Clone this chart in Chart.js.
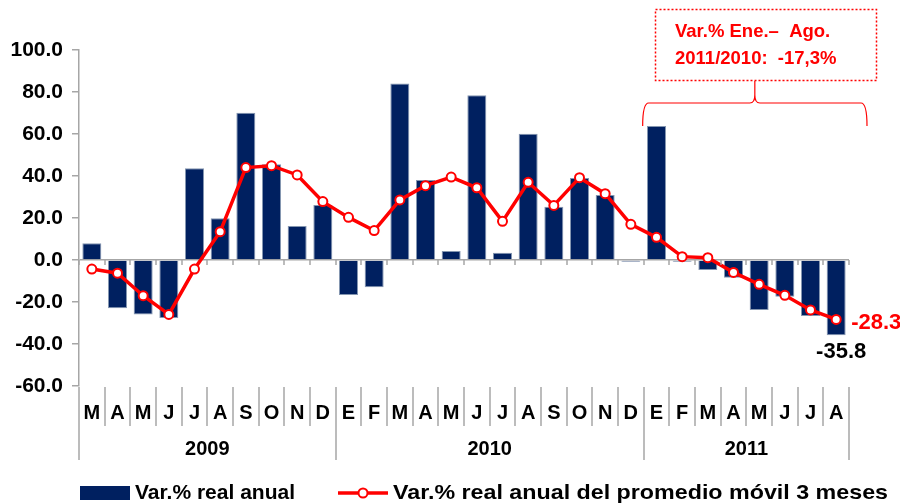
<!DOCTYPE html>
<html>
<head>
<meta charset="utf-8">
<script src="https://cdn.jsdelivr.net/npm/chart.js@4.4.0/dist/chart.umd.min.js"></script>
<style>
  body { margin: 0; background: #fff; }
  canvas { display: block; }
</style>
</head>
<body>
<canvas id="chart" width="900" height="504"></canvas>
<script>
// months from Mar-2009 to Aug-2011
const months = ['M','A','M','J','J','A','S','O','N','D',
                'E','F','M','A','M','J','J','A','S','O','N','D',
                'E','F','M','A','M','J','J','A'];
const years = ['2009', '2010', '2011'];
const monthsPerYear = [10, 12, 8];

const annualVar = [8.0, -23.0, -25.9, -27.6, 43.7, 19.9, 70.1, 45.6, 16.2, 26.2,
                   -16.7, -13.0, 84.0, 38.1, 4.3, 78.4, 3.5, 60.1, 25.4, 39.0, 31.0, -0.8,
                   63.8, -0.8, -4.8, -8.4, -23.8, -17.5, -26.7, -35.8];
const movingAvg = [-4.3, -6.3, -17.0, -25.9, -4.3, 13.5, 44.0, 44.9, 40.5, 27.8,
                   20.3, 14.0, 28.6, 35.4, 39.5, 34.4, 18.4, 37.0, 26.0, 39.2, 31.6, 17.0,
                   10.8, 1.6, 1.1, -5.9, -11.6, -16.8, -23.8, -28.3];

const yMin = -60, yMax = 100, yStep = 20;
const noteLines = ['Var.% Ene.\u2013  Ago.', '2011/2010:  -17,3%'];
const legendLabels = ['Var.% real anual', 'Var.% real anual del promedio m\u00f3vil 3 meses'];

const FONT = 'Arial, "Liberation Sans", sans-serif';
const NAVY = '#002060';
const RED = '#ff0000';
const AXIS = '#a6a6a6';

// draw text stretched horizontally to a given width
function wideText(ctx, text, x, y, width) {
    const w = ctx.measureText(text).width;
    ctx.save();
    ctx.translate(x, y);
    ctx.scale(width / w, 1);
    ctx.fillText(text, 0, 0);
    ctx.restore();
}

const extras = {
    id: 'extras',
    afterDraw(chart) {
        const { ctx, chartArea: a, scales: { x, y } } = chart;
        const half = (x.getPixelForValue(1) - x.getPixelForValue(0)) / 2;
        const edge = i => i < months.length ? x.getPixelForValue(i) - half : x.getPixelForValue(i - 1) + half;
        const y0 = y.getPixelForValue(0);
        ctx.save();

        // small ticks on the zero line + month separators under the plot
        ctx.strokeStyle = AXIS;
        ctx.lineWidth = 1.5;
        const yearEdges = [0];
        monthsPerYear.reduce((s, n) => { yearEdges.push(s + n); return s + n; }, 0);
        for (let i = 0; i <= months.length; i++) {
            const px = Math.round(edge(i));
            ctx.beginPath();
            ctx.moveTo(px, y0);
            ctx.lineTo(px, y0 + 5);
            ctx.stroke();
            const long = yearEdges.includes(i);
            ctx.beginPath();
            ctx.moveTo(px, a.bottom + 1);
            ctx.lineTo(px, a.bottom + (long ? 74 : 40));
            ctx.stroke();
        }

        // year labels
        ctx.fillStyle = '#000';
        ctx.font = 'bold 20px ' + FONT;
        ctx.textAlign = 'center';
        ctx.textBaseline = 'middle';
        years.forEach((yr, k) => {
            const cx = (edge(yearEdges[k]) + edge(yearEdges[k + 1])) / 2;
            ctx.fillText(yr, cx, a.bottom + 63);
        });

        // end labels
        const last = months.length - 1;
        const pt = chart.getDatasetMeta(0).data[last];
        const bar = chart.getDatasetMeta(1).data[last];
        ctx.font = 'bold 22px ' + FONT;
        ctx.textAlign = 'left';
        ctx.fillStyle = RED;
        ctx.fillText(movingAvg[last].toFixed(1), pt.x + 15, pt.y + 4);
        ctx.fillStyle = '#000';
        ctx.textAlign = 'center';
        ctx.fillText(annualVar[last].toFixed(1), bar.x + 5, bar.y + 17);

        // annotation box
        ctx.strokeStyle = RED;
        ctx.lineWidth = 1.5;
        ctx.setLineDash([2, 2]);
        ctx.strokeRect(655.5, 9.5, 221, 71);
        ctx.setLineDash([]);
        ctx.fillStyle = RED;
        ctx.font = 'bold 18.5px ' + FONT;
        ctx.textAlign = 'left';
        ctx.fillText(noteLines[0], 675, 32);
        ctx.fillText(noteLines[1], 675, 59);

        // brace over Jan-Aug 2011
        const xl = edge(22) - 1, xr = a.right + 18, xm = (xl + xr) / 2;
        ctx.lineWidth = 1.2;
        ctx.beginPath();
        ctx.moveTo(xl, 126);
        ctx.quadraticCurveTo(xl, 103, xl + 6, 103);
        ctx.lineTo(xm - 5, 103);
        ctx.quadraticCurveTo(xm, 103, xm, 95);
        ctx.lineTo(xm, 81);
        ctx.moveTo(xm, 95);
        ctx.quadraticCurveTo(xm, 103, xm + 5, 103);
        ctx.lineTo(xr - 6, 103);
        ctx.quadraticCurveTo(xr, 103, xr, 126);
        ctx.stroke();

        // legend
        const ly = 493;
        ctx.fillStyle = NAVY;
        ctx.fillRect(80, ly - 7, 50, 14);
        ctx.fillStyle = '#000';
        ctx.font = 'bold 21px ' + FONT;
        ctx.textAlign = 'left';
        wideText(ctx, legendLabels[0], 135, ly, 160);
        ctx.strokeStyle = RED;
        ctx.lineWidth = 3.5;
        ctx.beginPath();
        ctx.moveTo(338, ly);
        ctx.lineTo(388, ly);
        ctx.stroke();
        ctx.beginPath();
        ctx.arc(363, ly, 4.5, 0, Math.PI * 2);
        ctx.fillStyle = '#fff';
        ctx.fill();
        ctx.lineWidth = 2;
        ctx.stroke();
        ctx.fillStyle = '#000';
        wideText(ctx, legendLabels[1], 393, ly, 495);

        ctx.restore();
    }
};

new Chart(document.getElementById('chart'), {
    type: 'bar',
    data: {
        labels: months,
        datasets: [{
            type: 'line',
            label: legendLabels[1],
            data: movingAvg,
            borderColor: RED,
            borderWidth: 3.5,
            pointRadius: 4.5,
            pointBackgroundColor: '#fff',
            pointBorderColor: RED,
            pointBorderWidth: 2,
            tension: 0,
            order: 0,
        }, {
            label: legendLabels[0],
            data: annualVar,
            backgroundColor: NAVY,
            borderColor: '#8496b0',
            borderWidth: 1,
            barPercentage: 0.74,
            categoryPercentage: 1.0,
            order: 1,
        }],
    },
    options: {
        responsive: false,
        animation: false,
        devicePixelRatio: 1,
        layout: { padding: { top: 50, right: 51, bottom: 30, left: 0 } },
        plugins: {
            legend: { display: false },
            tooltip: { enabled: false },
        },
        scales: {
            x: {
                grid: { display: false },
                border: { display: false },
                ticks: {
                    color: '#000',
                    font: { family: FONT, size: 20, weight: 'bold' },
                    padding: 7,
                    maxRotation: 0,
                    autoSkip: false,
                },
                afterFit: s => { s.height = 88; },
            },
            y: {
                min: yMin,
                max: yMax,
                grid: {
                    color: c => c.tick && c.tick.value === 0 ? AXIS : 'transparent',
                    tickColor: AXIS,
                    tickLength: 7,
                    lineWidth: 1.5,
                },
                border: { color: AXIS, width: 1.5 },
                ticks: {
                    stepSize: yStep,
                    color: '#000',
                    font: { family: FONT, size: 21, weight: 'bold' },
                    padding: 9,
                    callback: v => v.toFixed(1),
                },
                afterFit: s => { s.width = 79; },
            },
        },
    },
    plugins: [extras],
});
</script>
</body>
</html>
